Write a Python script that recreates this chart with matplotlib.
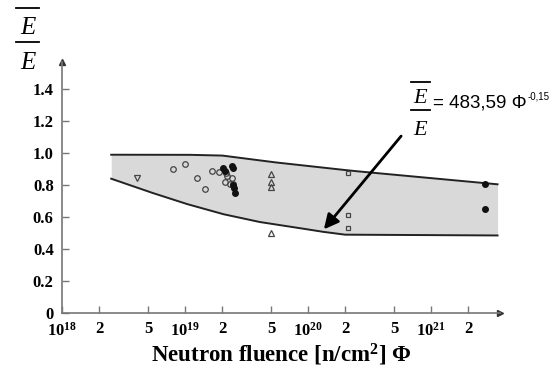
import numpy as np
import matplotlib
matplotlib.use("Agg")
import matplotlib.pyplot as plt
from matplotlib.lines import Line2D

plt.rcParams['mathtext.fontset'] = 'custom'
plt.rcParams['mathtext.rm'] = 'Liberation Serif'
plt.rcParams['mathtext.bf'] = 'Liberation Serif:bold'
plt.rcParams['mathtext.it'] = 'Liberation Serif:italic'

# band limits (log10 of fluence, ratio)
upper_logx = [18.4, 19.0, 19.3, 19.5, 19.7, 20.0, 20.35, 21.54]
upper_y = [0.99, 0.99, 0.985, 0.965, 0.945, 0.92, 0.89, 0.805]
lower_logx = [18.4, 18.7, 19.0, 19.3, 19.6, 19.9, 20.1, 20.3, 21.54]
lower_y = [0.84, 0.76, 0.685, 0.62, 0.57, 0.535, 0.51, 0.49, 0.485]

# measured points
open_circle_x = [8e18, 1e19, 1.25e19, 1.45e19, 1.65e19, 1.9e19, 2.15e19, 2.2e19,
                 2.1e19, 2.3e19, 2.4e19, 2.45e19]
open_circle_y = [0.90, 0.93, 0.845, 0.775, 0.89, 0.88, 0.875, 0.855,
                 0.82, 0.81, 0.845, 0.81]
filled_circle_x = [2.05e19, 2.1e19, 2.4e19, 2.45e19, 2.45e19, 2.5e19, 2.55e19, 2.75e21, 2.75e21]
filled_circle_y = [0.905, 0.89, 0.92, 0.905, 0.80, 0.78, 0.75, 0.81, 0.65]
tri_up_x = [5e19, 5e19, 5e19, 5e19]
tri_up_y = [0.87, 0.82, 0.79, 0.50]
tri_down_x = [4.1e18]
tri_down_y = [0.845]
square_x = [2.1e20, 2.1e20, 2.1e20]
square_y = [0.875, 0.61, 0.53]

xtick_vals = [1e18, 2e18, 5e18, 1e19, 2e19, 5e19, 1e20, 2e20, 5e20, 1e21, 2e21]
xtick_labels = [r'$\mathbf{10^{18}}$', '2', '5', r'$\mathbf{10^{19}}$', '2', '5',
                r'$\mathbf{10^{20}}$', '2', '5', r'$\mathbf{10^{21}}$', '2']
ytick_vals = [0, 0.2, 0.4, 0.6, 0.8, 1.0, 1.2, 1.4]
ytick_labels = ['0', '0.2', '0.4', '0.6', '0.8', '1.0', '1.2', '1.4']

W, H = 554, 376
fig = plt.figure(figsize=(W / 100, H / 100), dpi=100)
ax = fig.add_axes([62 / W, (H - 313) / H, (500 - 62) / W, (313 - 62) / H])


def px(x, y):
    return x / W, 1 - y / H


# band
grid = np.linspace(18.4, 21.54, 300)
up = np.interp(grid, upper_logx, upper_y)
lo = np.interp(grid, lower_logx, lower_y)
ax.fill_between(10 ** grid, lo, up, color='#d9d9d9', lw=0)
ax.plot(10 ** grid, up, color='#222222', lw=1.4)
ax.plot(10 ** grid, lo, color='#222222', lw=1.4)

ms = 4
ax.plot(open_circle_x, open_circle_y, 'o', mfc='none', mec='#444444', ms=ms, mew=0.9)
ax.plot(filled_circle_x, filled_circle_y, 'o', color='#111111', ms=ms)
ax.plot(tri_up_x, tri_up_y, '^', mfc='none', mec='#444444', ms=ms, mew=0.9)
ax.plot(tri_down_x, tri_down_y, 'v', mfc='none', mec='#444444', ms=ms + 1, mew=0.9)
ax.plot(square_x, square_y, 's', mfc='none', mec='#444444', ms=ms - 0.5, mew=0.9)

ax.set_xscale('log')
ax.set_xlim(1e18, 10 ** 21.56)
ax.set_ylim(0, 1.57)
ax.minorticks_off()
ax.set_xticks(xtick_vals)
ax.set_xticklabels(xtick_labels)
ax.set_yticks(ytick_vals)
ax.set_yticklabels(ytick_labels)
for lab in ax.get_xticklabels() + ax.get_yticklabels():
    lab.set_fontfamily('Liberation Serif')
    lab.set_fontweight('bold')
    lab.set_fontsize(12)
ax.tick_params(axis='both', direction='in', length=5, width=1, color='#777777')
ax.tick_params(axis='x', pad=6)
ax.tick_params(axis='y', pad=6)

for s in ['top', 'right']:
    ax.spines[s].set_visible(False)
for s in ['left', 'bottom']:
    ax.spines[s].set_color('#777777')
    ax.spines[s].set_linewidth(1.2)
ax.plot(1, 0, '>', color='#333333', ms=4, transform=ax.transAxes, clip_on=False)
ax.plot(0, 1, '^', color='#333333', ms=4, transform=ax.transAxes, clip_on=False)

ax.set_xlabel(r'Neutron fluence [n/cm$^\mathbf{2}$] Φ', fontfamily='Liberation Serif',
              fontweight='bold', fontsize=16.5, labelpad=2)

# arrow to the band
ax.annotate('', xy=(1.3e20, 0.51), xytext=(5.9e20, 1.12),
            arrowprops=dict(arrowstyle='-|>', lw=2, color='black', mutation_scale=22))


def frac(xc, y_over, y_top, y_bar, y_bot, half, size):
    # fraction E-bar over E, positions in pixels from top-left
    fig.add_artist(Line2D([px(xc - half, 0)[0], px(xc + half, 0)[0]],
                          [px(0, y_over)[1]] * 2, color='black', lw=1.3,
                          transform=fig.transFigure))
    fig.add_artist(Line2D([px(xc - half, 0)[0], px(xc + half, 0)[0]],
                          [px(0, y_bar)[1]] * 2, color='black', lw=1.3,
                          transform=fig.transFigure))
    fig.text(*px(xc, y_top), 'E', fontfamily='Liberation Serif', style='italic',
             fontsize=size, ha='center', va='baseline')
    fig.text(*px(xc, y_bot), 'E', fontfamily='Liberation Serif', style='italic',
             fontsize=size, ha='center', va='baseline')


# y label
frac(27.5, 8, 34, 42, 69, 11.5, 18)

# formula
frac(420.5, 82, 103, 110, 135, 9.5, 16)
eq = fig.text(*px(433, 107), '= 483,59 Φ', fontfamily='Liberation Sans', fontsize=13.5,
              ha='left', va='baseline')
ax.annotate('-0,15', xy=(1, 0.55), xycoords=eq, xytext=(1, 0), textcoords='offset points',
            fontfamily='Liberation Sans', fontsize=7, ha='left', va='bottom')

fig.savefig('out.png', dpi=100)
